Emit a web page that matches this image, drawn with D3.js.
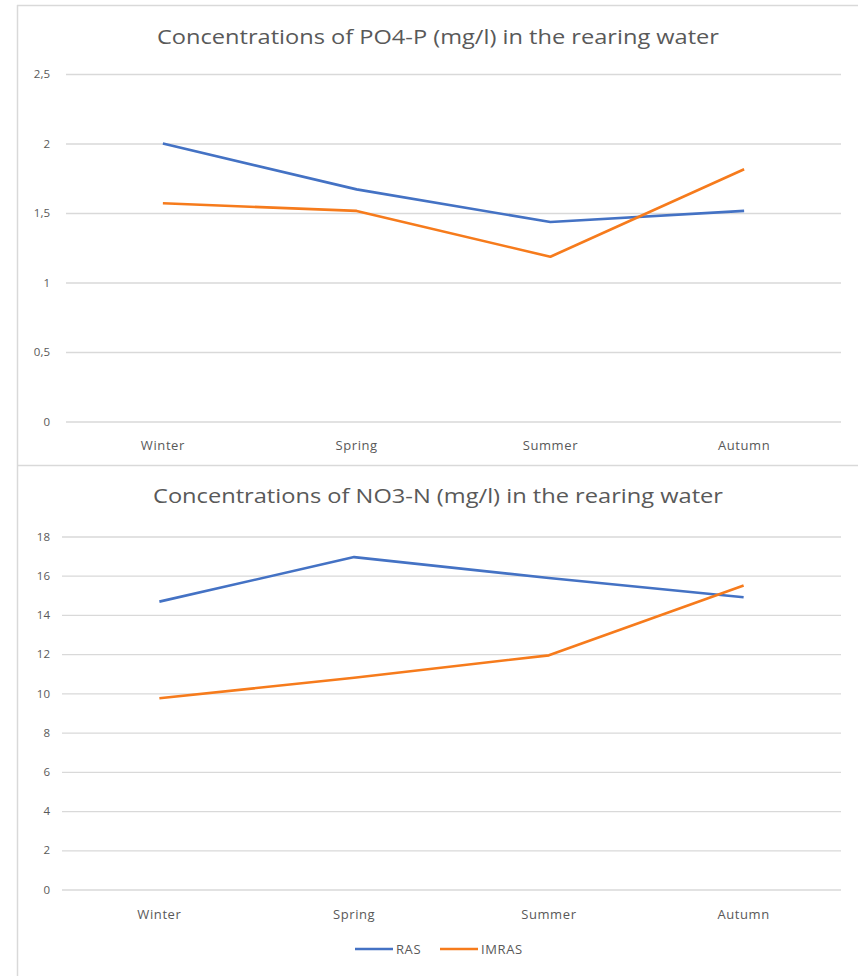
<!DOCTYPE html>
<html><head><meta charset="utf-8">
<script src="https://cdn.jsdelivr.net/npm/d3@7"></script>
<style>html,body{margin:0;padding:0;background:#fff;}svg{display:block;}</style>
</head><body>
<svg id="c" width="858" height="976"></svg>
<script>
const seasons = ["Winter", "Spring", "Summer", "Autumn"];
const seriesNames = ["RAS", "IMRAS"];
const po4RAS = [2.0, 1.67, 1.435, 1.515];
const po4IMRAS = [1.57, 1.515, 1.185, 1.815];
const no3RAS = [14.68, 16.95, 15.88, 14.9];
const no3IMRAS = [9.75, 10.8, 11.94, 15.5];
const po4Ticks = [0, 0.5, 1, 1.5, 2, 2.5];
const no3Ticks = [0, 2, 4, 6, 8, 10, 12, 14, 16, 18];
const titles = ["Concentrations of PO4-P (mg/l) in the rearing water",
                "Concentrations of NO3-N (mg/l) in the rearing water"];

const colors = {RAS: "#4472C4", IMRAS: "#F67B1C"};
const txt = "#595959";
const grid = "#d9d9d9";
const font = "'Open Sans', sans-serif";
const svg = d3.select("#c");

// borders
svg.append("line").attr("x1",17.5).attr("x2",17.5).attr("y1",5).attr("y2",976).attr("stroke",grid).attr("stroke-width",1.5);
svg.append("line").attr("x1",17).attr("x2",858).attr("y1",5.5).attr("y2",5.5).attr("stroke",grid).attr("stroke-width",1.5);
svg.append("line").attr("x1",17).attr("x2",858).attr("y1",465.5).attr("y2",465.5).attr("stroke",grid).attr("stroke-width",1.5);

function panel(cfg){
  const g = svg.append("g");
  const x = d3.scaleBand().domain(seasons).range([cfg.x0, 841]);
  const y = d3.scaleLinear().domain([0, cfg.max]).range([cfg.yBottom, cfg.yTop]);
  g.append("text").attr("x",cfg.titleX).attr("y",cfg.titleY).attr("text-anchor","start")
    .attr("font-family",font).attr("font-size",20).attr("fill",txt)
    .attr("textLength",cfg.titleLen).attr("lengthAdjust","spacingAndGlyphs").text(cfg.title);
  const yAxis = d3.axisLeft(y).tickValues(cfg.ticks).tickSize(-(841-cfg.x0)).tickPadding(cfg.x0-50)
    .tickFormat(d => String(d).replace(".", ","));
  const ya = g.append("g").attr("transform",`translate(${cfg.x0},0)`).call(yAxis);
  ya.select(".domain").remove();
  ya.selectAll("line").attr("stroke",grid).attr("stroke-width",1.3);
  ya.selectAll("text").attr("font-family",font).attr("font-size",11.5).attr("fill",txt);
  const xAxis = d3.axisBottom(x).tickSize(0).tickPadding(cfg.xLabPad);
  const xa = g.append("g").attr("transform",`translate(0,${cfg.yBottom})`).call(xAxis);
  xa.select(".domain").remove();
  xa.selectAll("text").attr("font-family",font).attr("font-size",13).attr("letter-spacing","0.6px").attr("fill",txt);
  const line = d3.line().x((d,i)=>x(seasons[i])+x.bandwidth()/2).y(d=>y(d));
  cfg.series.forEach(s=>{
    g.append("path").datum(s.values).attr("d",line).attr("fill","none")
      .attr("stroke",colors[s.name]).attr("stroke-width",2.6).attr("stroke-linejoin","round");
  });
}

panel({title:titles[0], titleX:157, titleLen:562, titleY:44, x0:66, yTop:74, yBottom:421.5, max:2.5, ticks:po4Ticks, xLabPad:19,
  series:[{name:"RAS",values:po4RAS},{name:"IMRAS",values:po4IMRAS}]});
panel({title:titles[1], titleX:153, titleLen:570, titleY:503, x0:62, yTop:536.5, yBottom:889.5, max:18, ticks:no3Ticks, xLabPad:20,
  series:[{name:"RAS",values:no3RAS},{name:"IMRAS",values:no3IMRAS}]});

// legend
const legX = [355, 440];
seriesNames.forEach((n,i)=>{
  svg.append("line").attr("x1",legX[i]).attr("x2",legX[i]+38).attr("y1",949).attr("y2",949)
    .attr("stroke",colors[n]).attr("stroke-width",2.6);
  svg.append("text").attr("x",legX[i]+41).attr("y",954).attr("font-family",font).attr("font-size",13)
    .attr("letter-spacing","0.6px").attr("fill",txt).text(n);
});
</script>
</body></html>
